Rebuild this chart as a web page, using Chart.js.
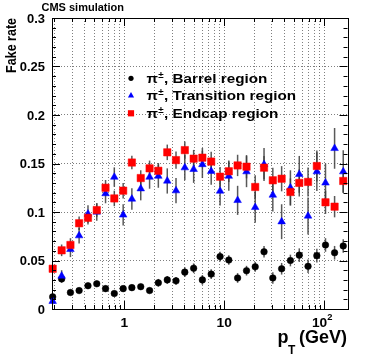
<!DOCTYPE html>
<html>
<head>
<meta charset="utf-8">
<script src="https://cdn.jsdelivr.net/npm/chart.js@4/dist/chart.umd.min.js"></script>
<style>
  html, body { margin: 0; padding: 0; background: #fff; }
  #wrap { width: 374px; height: 355px; }
</style>
</head>
<body>
<div id="wrap"><canvas id="chart" width="374" height="355"></canvas></div>
<script>
// pT bin centres (GeV)
const ptBins = [0.192, 0.236, 0.289, 0.353, 0.433, 0.530, 0.649, 0.794, 0.974, 1.19,
  1.46, 1.79, 2.19, 2.69, 3.29, 4.03, 4.94, 6.04, 7.40, 9.08,
  11.1, 13.6, 16.7, 20.4, 25.0, 30.6, 37.5, 45.9, 56.3, 68.9,
  84.4, 103, 127, 155];

// fake rates and errors
const barrel = [0.0125, 0.031, 0.017, 0.019, 0.024, 0.026, 0.021, 0.016, 0.021, 0.022,
  0.023, 0.019, 0.027, 0.030, 0.029, 0.038, 0.042, 0.030, 0.036, 0.054,
  0.0505, 0.032, 0.0395, 0.0435, 0.059, 0.032, 0.0415, 0.050, 0.0555, 0.044,
  0.055, 0.066, 0.058, 0.065];
const barrelErr = [0.003, 0.004, 0.003, 0.003, 0.003, 0.003, 0.003, 0.003, 0.003, 0.003,
  0.003, 0.003, 0.004, 0.004, 0.004, 0.005, 0.005, 0.005, 0.005, 0.005,
  0.005, 0.005, 0.005, 0.005, 0.006, 0.006, 0.006, 0.006, 0.007, 0.007,
  0.007, 0.007, 0.007, 0.007];

const transition = [0.008, 0.034, 0.0615, 0.0756, 0.098, 0.100, 0.119, 0.136, 0.097, 0.1134,
  0.124, 0.136, 0.137, 0.132, 0.122, 0.1457, 0.144, 0.149, 0.142, 0.1216,
  0.137, 0.112, 0.1416, 0.1048, 0.149, 0.1175, 0.090, 0.125, 0.1388, 0.0959,
  0.1416, 0.130, 0.1656, 0.1416];
const transitionErr = [0.003, 0.006, 0.008, 0.008, 0.009, 0.009, 0.010, 0.010, 0.011, 0.011,
  0.012, 0.012, 0.012, 0.013, 0.013, 0.013, 0.014, 0.014, 0.014, 0.015,
  0.015, 0.015, 0.016, 0.016, 0.017, 0.017, 0.018, 0.018, 0.019, 0.019,
  0.020, 0.020, 0.021, 0.022];

const endcap = [0.0415, 0.0605, 0.066, 0.0884, 0.094, 0.102, 0.125, 0.114, 0.122, 0.151,
  0.135, 0.145, 0.1425, 0.1615, 0.1535, 0.1638, 0.155, 0.156, 0.152, 0.1364,
  0.142, 0.148, 0.1467, 0.1258, 0.1457, 0.1327, 0.1343, 0.1206, 0.130, 0.131,
  0.1474, 0.110, 0.1055, 0.132];
const endcapErr = [0.004, 0.006, 0.007, 0.007, 0.007, 0.007, 0.008, 0.008, 0.008, 0.007,
  0.008, 0.008, 0.008, 0.008, 0.009, 0.009, 0.009, 0.010, 0.010, 0.010,
  0.011, 0.011, 0.012, 0.012, 0.012, 0.013, 0.013, 0.014, 0.014, 0.015,
  0.016, 0.012, 0.011, 0.012];

// axis ticks
const xGridVals = [0.2, 0.3, 0.4, 0.5, 0.6, 0.7, 0.8, 0.9, 1, 2, 3, 4, 5, 6, 7, 8, 9,
  10, 20, 30, 40, 50, 60, 70, 80, 90, 100];
const xMajor = [1, 10, 100];
const yTickVals = [0, 0.05, 0.1, 0.15, 0.2, 0.25, 0.3];
const yTickLabels = ["0", "0.05", "0.1", "0.15", "0.2", "0.25", "0.3"];
const legendLabels = ["Barrel region", "Transition region", "Endcap region"];

const FONT = "'Liberation Sans', Arial, sans-serif";

function toPoints(vals) {
  return vals.map((v, i) => ({ x: ptBins[i], y: v }));
}

// text with horizontal stretch
function txt(ctx, s, x, y, size, align, sx) {
  ctx.save();
  ctx.translate(x, y);
  ctx.scale(sx || 1, 1);
  ctx.font = "bold " + size + "px " + FONT;
  ctx.textAlign = align || "left";
  ctx.textBaseline = "alphabetic";
  ctx.fillStyle = "#000";
  ctx.fillText(s, 0, 0);
  const w = ctx.measureText(s).width * (sx || 1);
  ctx.restore();
  return w;
}

function marker(ctx, style, color, x, y, r) {
  ctx.save();
  ctx.fillStyle = color;
  ctx.beginPath();
  if (style === "circle") {
    ctx.arc(x, y, r, 0, Math.PI * 2);
  } else if (style === "triangle") {
    ctx.moveTo(x, y - r);
    ctx.lineTo(x + r * 0.866, y + r * 0.5);
    ctx.lineTo(x - r * 0.866, y + r * 0.5);
    ctx.closePath();
  } else {
    ctx.rect(x - r, y - r, 2 * r, 2 * r);
  }
  ctx.fill();
  ctx.restore();
}

const errList = [barrelErr, transitionErr, endcapErr];

const rootStyle = {
  id: "rootStyle",
  beforeDatasetsDraw(chart) {
    const ctx = chart.ctx;
    const xs = chart.scales.x, ys = chart.scales.y;
    ctx.save();
    ctx.strokeStyle = "rgba(60,60,60,0.85)";
    ctx.lineWidth = 1.5;
    chart.data.datasets.forEach((ds, k) => {
      const err = errList[k];
      ds.data.forEach((p, i) => {
        const px = xs.getPixelForValue(p.x);
        ctx.beginPath();
        ctx.moveTo(px, ys.getPixelForValue(p.y - err[i]));
        ctx.lineTo(px, ys.getPixelForValue(p.y + err[i]));
        ctx.stroke();
      });
    });
    ctx.restore();
  },
  afterDraw(chart) {
    const ctx = chart.ctx;
    const a = chart.chartArea;
    const xs = chart.scales.x, ys = chart.scales.y;

    // frame
    ctx.save();
    ctx.strokeStyle = "#000";
    ctx.lineWidth = 1;
    ctx.strokeRect(Math.round(a.left) + 0.5, Math.round(a.top) + 0.5,
      Math.round(a.right - a.left), Math.round(a.bottom - a.top));

    // y ticks (inside, both sides)
    ctx.beginPath();
    for (let i = 0; i <= 30; i++) {
      const v = i / 100;
      const py = Math.round(ys.getPixelForValue(v)) + 0.5;
      const len = i % 5 === 0 ? 8 : 4;
      ctx.moveTo(a.left, py); ctx.lineTo(a.left + len, py);
      ctx.moveTo(a.right, py); ctx.lineTo(a.right - len, py);
    }
    // x ticks (inside, top and bottom)
    xGridVals.forEach(v => {
      const px = Math.round(xs.getPixelForValue(v)) + 0.5;
      const len = xMajor.includes(v) ? 8 : 4;
      ctx.moveTo(px, a.bottom); ctx.lineTo(px, a.bottom - len);
      ctx.moveTo(px, a.top); ctx.lineTo(px, a.top + len);
    });
    ctx.stroke();
    ctx.restore();

    // y tick labels
    yTickVals.forEach((v, i) => {
      txt(ctx, yTickLabels[i], 45, ys.getPixelForValue(v) + 4.5, 12, "right", 1.08);
    });
    // x tick labels
    txt(ctx, "1", xs.getPixelForValue(1), 327, 12.5, "center", 1.1);
    txt(ctx, "10", xs.getPixelForValue(10), 327, 12.5, "center", 1.1);
    const p100 = xs.getPixelForValue(100);
    txt(ctx, "10", p100 + 3, 327, 12.5, "right", 1.1);
    txt(ctx, "2", p100 + 3, 320, 8.5, "left", 1.1);

    // axis titles
    const pw = txt(ctx, "p", 277.5, 342.5, 18, "left", 1.0);
    txt(ctx, "T", 277.5 + pw - 0.5, 354, 12, "left", 1.0);
    txt(ctx, "(GeV)", 299, 342.5, 18, "left", 1.0);

    ctx.save();
    ctx.translate(15.5, 18);
    ctx.scale(1.2, 1);
    ctx.rotate(-Math.PI / 2);
    ctx.font = "bold 12.5px " + FONT;
    ctx.textAlign = "right";
    ctx.fillStyle = "#000";
    ctx.fillText("Fake rate", 0, 0);
    ctx.restore();

    // header
    txt(ctx, "CMS simulation", 41.5, 10.8, 11, "left", 1.0);

    // legend
    const styles = [["circle", "#000", 2.6], ["triangle", "#0000ff", 3.6], ["rect", "#ff0000", 3.1]];
    const rows = [78.3, 95.7, 113.3];
    legendLabels.forEach((lab, i) => {
      const yc = rows[i];
      marker(ctx, styles[i][0], styles[i][1], 131, yc, styles[i][2]);
      let x = 146.5;
      x += txt(ctx, "\u03c0", x, yc + 4.4, 12.5, "left", 1.2);
      txt(ctx, "\u00b1", x + 0.2, yc - 0.8, 8.5, "left", 1.15);
      x += 6;
      txt(ctx, ", " + lab, x, yc + 4.4, 12.5, "left", 1.22);
    });
  }
};

const gridDash = { display: false, dash: [1, 2] };

new Chart(document.getElementById("chart"), {
  type: "scatter",
  data: {
    datasets: [
      {
        label: "Barrel", data: toPoints(barrel), order: 2, clip: false,
        pointStyle: "circle", pointRadius: 3.3, pointBackgroundColor: "#000",
        pointBorderColor: "#000", pointBorderWidth: 0.5
      },
      {
        label: "Transition", data: toPoints(transition), order: 1, clip: false,
        pointStyle: "triangle", pointRadius: 4.4, pointBackgroundColor: "#0000ff",
        pointBorderColor: "#0000ff", pointBorderWidth: 0.5
      },
      {
        label: "Endcap", data: toPoints(endcap), order: 0, clip: false,
        pointStyle: "rect", pointRadius: 5.2, pointBackgroundColor: "#ff0000",
        pointBorderColor: "#ff0000", pointBorderWidth: 0.5
      }
    ]
  },
  options: {
    responsive: false,
    animation: false,
    devicePixelRatio: 1,
    layout: { padding: { top: 18, right: 26.5, left: 0, bottom: 0 } },
    plugins: { legend: { display: false }, tooltip: { enabled: false } },
    scales: {
      x: {
        type: "logarithmic",
        min: 0.189,
        max: 171,
        afterBuildTicks: s => { s.ticks = xGridVals.map(v => ({ value: v })); },
        afterFit: s => { s.height = 46; },
        ticks: { display: false, autoSkip: false },
        grid: { color: "rgba(0,0,0,0.5)", lineWidth: 1, drawTicks: false },
        border: gridDash
      },
      y: {
        min: 0,
        max: 0.3,
        afterBuildTicks: s => { s.ticks = yTickVals.map(v => ({ value: v })); },
        afterFit: s => { s.width = 52; },
        ticks: { display: false },
        grid: { color: "rgba(0,0,0,0.5)", lineWidth: 1, drawTicks: false },
        border: gridDash
      }
    }
  },
  plugins: [rootStyle]
});
</script>
</body>
</html>
